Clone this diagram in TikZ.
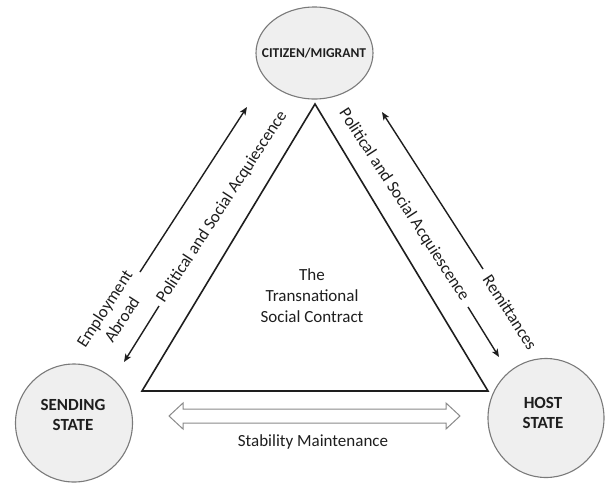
\documentclass[tikz,border=0pt]{standalone}
\usepackage{fontspec}
\setmainfont{Carlito}
\usetikzlibrary{arrows.meta,shapes.geometric,calc}
\definecolor{ink}{HTML}{1E1E1E}
\definecolor{actorfill}{HTML}{EFEFEF}
\definecolor{actorline}{HTML}{7A7A7A}
\definecolor{bandline}{HTML}{8A8A8A}
\begin{document}
\begin{tikzpicture}[x=1pt,y=-1pt,
  actor/.style={ellipse,draw=actorline,fill=actorfill,line width=1.1pt,inner sep=0pt},
  actorname/.style={font=\bfseries\fontsize{17}{20}\selectfont,align=center,text=ink,inner sep=0pt},
  flow/.style={draw=ink,line width=1.4pt,-{Stealth[length=8pt,width=6.5pt,inset=2pt]}},
  flowtext/.style={font=\fontsize{17}{20.5}\selectfont,align=center,text=ink,inner sep=0pt},
  band/.style={draw=bandline,fill=white,line width=1pt,line join=miter}]
\useasboundingbox (0,0) rectangle (605,483);

% the three actors
\node[actor,minimum width=117pt,minimum height=92pt] (citizen) at (314.5,53) {};
\node[actorname,font=\bfseries\fontsize{13.5}{16}\selectfont] (citizenname) at (314,53) {CITIZEN/MIGRANT};
\node[actor,minimum width=117pt,minimum height=118pt] (sending) at (74,423) {};
\node[actorname] (sendingname) at (73,415) {SENDING\\STATE};
\node[actor,minimum width=116pt,minimum height=119pt] (host) at (546,418) {};
\node[actorname] (hostname) at (543,413) {HOST\\STATE};

% the contract triangle
\coordinate (apex) at (315,104);
\coordinate (baseL) at (142,391);
\coordinate (baseR) at (488,391);
\draw[ink,line width=1.6pt,line join=miter] (apex) -- (baseL) -- (baseR) -- cycle;
\node[flowtext,font=\fontsize{17}{21}\selectfont] (contract) at (312,296) {The\\Transnational\\Social Contract};

% exchanges between sending state and citizen
\coordinate (empTail) at (140,272);
\coordinate (empHead) at (247,107);
\draw[flow] (empTail) -- (empHead);
\node[flowtext,rotate=57] (employ) at (113,314) {Employment\\Abroad};
\coordinate (acqLTail) at (159,306);
\coordinate (acqLHead) at (124,362);
\draw[flow] (acqLTail) -- (acqLHead);
\node[flowtext,rotate=57] (acqL) at (222,207) {Political and Social Acquiescence};

% exchanges between citizen and host state
\coordinate (remTail) at (483,269);
\coordinate (remHead) at (382,112);
\draw[flow] (remTail) -- (remHead);
\node[flowtext,rotate=-57] (remit) at (510,312) {Remittances};
\coordinate (acqRTail) at (468,307);
\coordinate (acqRHead) at (499,357);
\draw[flow] (acqRTail) -- (acqRHead);
\node[flowtext,rotate=-57] (acqR) at (404,205) {Political and Social Acquiescence};

% stability maintenance between the two states
\coordinate (stabL) at (169,416);
\coordinate (stabR) at (460,416);
\draw[band] (stabL) -- ++(14,-13) -- ++(0,6) -- ($(stabR)+(-14,-7)$) -- ++(0,-6)
  -- (stabR) -- ++(-14,13) -- ++(0,-6) -- ($(stabL)+(14,7)$) -- ++(0,6) -- cycle;
\node[flowtext] (stability) at (313,442) {Stability Maintenance};
\end{tikzpicture}
\end{document}
